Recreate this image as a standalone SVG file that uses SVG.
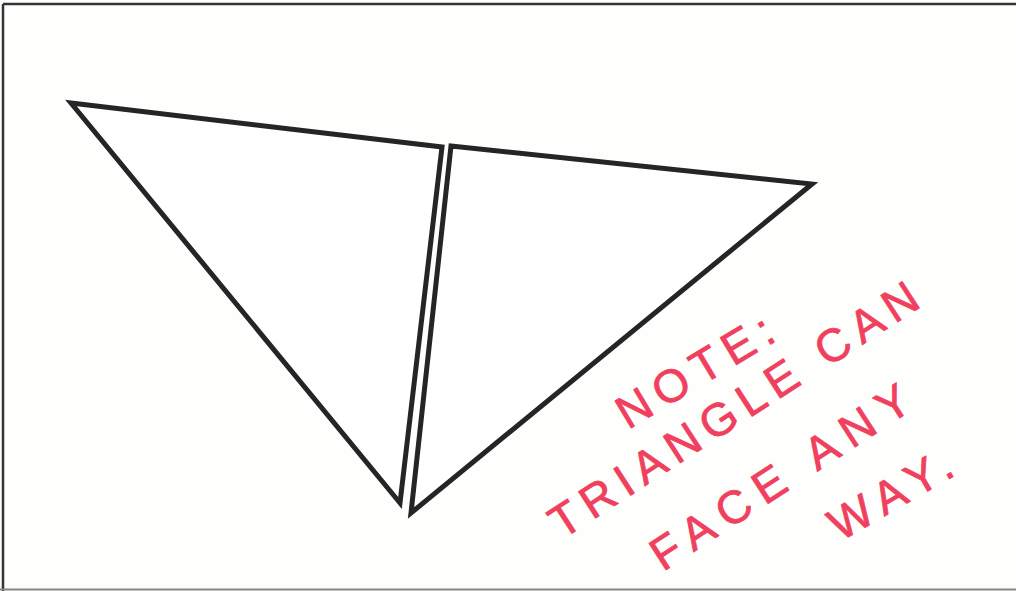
<svg xmlns="http://www.w3.org/2000/svg" width="1016" height="591" viewBox="0 0 1016 591">
<style>
.frame{fill:none;stroke:#3a3336;stroke-width:2.5}
.tri{fill:#ffffff;stroke:#262426;stroke-width:5;stroke-linejoin:miter}
.note{font-family:"Liberation Sans","DejaVu Sans",sans-serif;font-size:46px;fill:#f0405e;stroke:#f0405e;stroke-width:0.8;stroke-linejoin:round}
</style>
<rect width="1016" height="591" fill="#fefefc"/>
<g id="frame">
<line class="frame" x1="3" y1="4" x2="1016" y2="4"/>
<line class="frame" x1="3" y1="4" x2="3" y2="591"/>
<line x1="0" y1="589.5" x2="1016" y2="589.5" stroke="#8a8686" stroke-width="2"/>
</g>
<g id="triangle-left">
<polygon class="tri" points="71,103 442,147 400,503"/>
</g>
<g id="triangle-right">
<polygon class="tri" points="451,146 812,184 411,513"/>
</g>
<g id="note">
<text class="note" transform="translate(628,430) rotate(-31)" textLength="175" lengthAdjust="spacing">NOTE:</text>
<text class="note" transform="translate(562,540) rotate(-33)" textLength="430" lengthAdjust="spacing">TRIANGLE CAN</text>
<text class="note" transform="translate(663,572) rotate(-33)" textLength="300" lengthAdjust="spacing">FACE ANY</text>
<text class="note" transform="translate(840,542) rotate(-30)" textLength="135" lengthAdjust="spacing">WAY.</text>
</g>
</svg>
